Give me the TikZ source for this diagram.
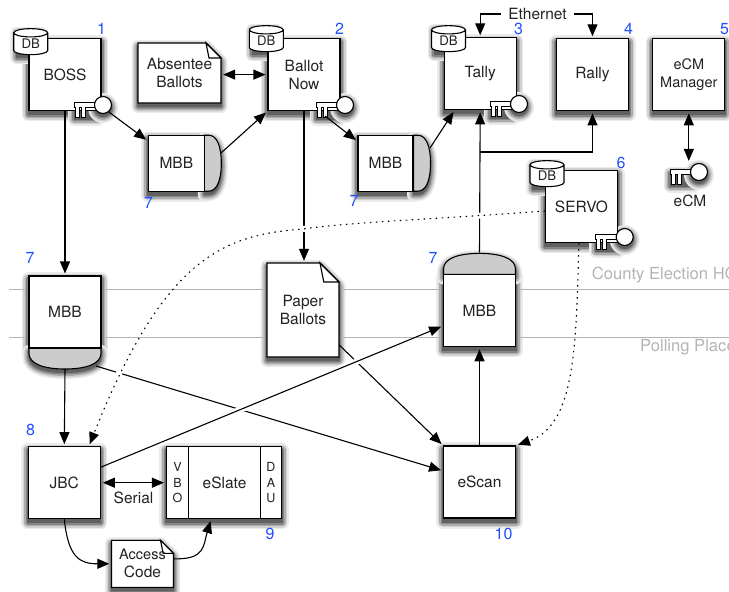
\documentclass[tikz,border=0pt]{standalone}
\usepackage{fontspec}
\setmainfont{TeX Gyre Heros}
\usetikzlibrary{arrows.meta,backgrounds,shapes.geometric}

\definecolor{inkcol}{HTML}{222222}
\definecolor{tagblue}{HTML}{1F4FFF}
\definecolor{capgray}{HTML}{CCCCCC}
\definecolor{zonegray}{HTML}{B4B4B4}

\tikzset{
    boxline/.style={draw=black,line width=1.1pt,fill=white},
    sysbox/.style={rectangle,boxline,minimum width=72pt,minimum height=72pt,inner sep=0pt,align=center,text=inkcol},
    mbbbox/.style={rectangle,boxline,inner sep=0pt,text=inkcol},
    slatebox/.style={rectangle,boxline,inner sep=0pt,minimum height=72pt,align=center,text=inkcol},
    dbcyl/.style={cylinder,shape border rotate=90,aspect=0.45,boxline,minimum width=34pt,minimum height=26pt,inner sep=0pt,text=inkcol,font=\fontsize{13.2}{15}\selectfont},
    tagnum/.style={text=tagblue,inner sep=0pt,font=\fontsize{16}{18}\selectfont},
    plainlabel/.style={text=inkcol,inner sep=0pt,align=center},
    zonelabel/.style={text=zonegray,anchor=west,inner sep=0pt,font=\fontsize{16.6}{18}\selectfont},
    zoneline/.style={draw=zonegray,line width=0.9pt},
    conn/.style={draw=black,line width=1.1pt,-{Triangle[length=12pt,width=10pt]},shorten >=2pt},
    twoway/.style={conn,{Triangle[length=12pt,width=10pt]}-{Triangle[length=12pt,width=10pt]},shorten <=2pt},
    dotconn/.style={conn,dash pattern=on 1.5pt off 4.5pt},
    halo/.style={draw=white,line width=6pt}
}

% shadow under a path, on the background layer
\newcommand{\softshade}[1]{
    \begin{scope}[on background layer]
        \foreach \w/\c in {13/8,10/18,7/32,4/48,1/62}
            \draw[black!\c,fill=black!\c,line width=\w pt,line join=round] #1;
    \end{scope}
}
\newcommand{\boxshade}[1]{\softshade{([yshift=-3.5pt]#1.north west) rectangle ([yshift=-3.5pt]#1.south east)}}

% folded sheet: name, left, top, width, height, fold, text
\newcommand{\paperdoc}[7]{
    \softshade{(#2,#3+3.5) -- (#2+#4-#6,#3+3.5) -- (#2+#4,#3+#6+3.5) -- (#2+#4,#3+#5+3.5) -- (#2,#3+#5+3.5) -- cycle}
    \draw[boxline] (#2,#3) -- (#2+#4-#6,#3) -- (#2+#4,#3+#6) -- (#2+#4,#3+#5) -- (#2,#3+#5) -- cycle;
    \draw[boxline] (#2+#4-#6,#3) -- (#2+#4-0.8*#6,#3+#6) -- (#2+#4,#3+#6) -- cycle;
    \node[plainlabel,minimum width=#4pt,minimum height=#5pt] (#1) at (#2+#4/2,#3+#5/2) {#7};
}

% round cap of an MBB: node, turn, half size, depth
\newcommand{\mbbcap}[4]{
    \boxshade{#1}
    \begin{scope}[shift={([yshift=-3.5pt]#1.center)},rotate=#2]
        \softshade{(#3,-#3) -- (#3+0.25*#4,-#3) .. controls (#3+0.75*#4,-#3) and (#3+#4,-0.6*#3) .. (#3+#4,0)
            .. controls (#3+#4,0.6*#3) and (#3+0.75*#4,#3) .. (#3+0.25*#4,#3) -- (#3,#3) -- cycle}
    \end{scope}
    \begin{scope}[on background layer]
        \draw[boxline,fill=capgray,shift={(#1.center)},rotate=#2]
            (#3,-#3) -- (#3+0.25*#4,-#3) .. controls (#3+0.75*#4,-#3) and (#3+#4,-0.6*#3) .. (#3+#4,0)
            .. controls (#3+#4,0.6*#3) and (#3+0.75*#4,#3) .. (#3+0.25*#4,#3) -- (#3,#3) -- cycle;
    \end{scope}
}

% key: name, x, y of its ring
\newcommand{\keyicon}[3]{
    \softshade{(#2-29,#3+1) rectangle (#2-6,#3+14)}
    \softshade{(#2,#3+3) circle (8.5)}
    \draw[boxline,line width=0.9pt] (#2-29,#3-2.5) -- (#2-6,#3-2.5) -- (#2-6,#3+2.5) -- (#2-18,#3+2.5) -- (#2-18,#3+12) -- (#2-22,#3+12)
        -- (#2-22,#3+2.5) -- (#2-24,#3+2.5) -- (#2-24,#3+12) -- (#2-28,#3+12) -- (#2-28,#3+2.5) -- (#2-29,#3+2.5) -- cycle;
    \node[circle,boxline,minimum size=17pt,inner sep=0pt] (#1) at (#2,#3) {};
    \coordinate (#1teeth) at (#2-20,#3+11);
}

\begin{document}
\begin{tikzpicture}[x=1pt,y=-1pt,every node/.style={font=\fontsize{15.5}{18}\selectfont}]

    \useasboundingbox (0,0) rectangle (729,592);

    % county systems
    \node[sysbox] (boss) at (65,74.6) {BOSS};
    \node[sysbox] (ballotnow) at (304,74.6) {Ballot\\Now};
    \node[sysbox] (tally) at (480.2,73.8) {Tally};
    \node[sysbox] (rally) at (592.5,74.8) {Rally};
    \node[sysbox,font=\fontsize{14.5}{18}\selectfont] (ecmmanager) at (688.8,74.8) {eCM\\Manager};
    \node[sysbox] (servo) at (581.5,206.5) {SERVO};

    \node[dbcyl] (bossdb) at (30.7,44) {DB};
    \node[dbcyl] (ballotdb) at (266.3,41) {DB};
    \node[dbcyl] (tallydb) at (448.5,41) {DB};
    \node[dbcyl] (servodb) at (547,176) {DB};
    \foreach \nm in {boss,ballotnow,tally,rally,ecmmanager,servo,bossdb,ballotdb,tallydb,servodb} {
        \boxshade{\nm}
    }

    \keyicon{bosskey}{103}{105}
    \keyicon{ballotkey}{345}{105}
    \keyicon{tallykey}{519}{104}
    \keyicon{servokey}{624.7}{237}
    \keyicon{ecmkey}{699}{172}
    \node[plainlabel] (ecmlabel) at (690,201) {eCM};

    % paper
    \paperdoc{absentee}{138}{43}{83}{60}{15}{Absentee\\Ballots}
    \paperdoc{paper}{267}{263}{72}{94}{19}{Paper\\Ballots}
    \paperdoc{access}{111.5}{540.3}{62}{47}{13}{\fontsize{14.5}{18}\selectfont Access\\Code}

    % ballot boxes
    \node[mbbbox,minimum width=56pt,minimum height=56pt] (mbbA) at (176.3,163.2) {MBB};
    \node[mbbbox,minimum width=55pt,minimum height=56pt] (mbbB) at (385.5,163.2) {MBB};
    \node[mbbbox,minimum width=72pt,minimum height=72pt] (mbbL) at (65,312) {MBB};
    \node[mbbbox,minimum width=72pt,minimum height=72.6pt] (mbbR) at (479.5,310.4) {MBB};
    \mbbcap{mbbA}{0}{28}{17}
    \mbbcap{mbbB}{0}{28}{17}
    \mbbcap{mbbL}{-90}{36}{21}
    \mbbcap{mbbR}{90}{36}{21}
    \coordinate (mbbAexit) at (221,153);
    \coordinate (mbbBexit) at (430,148);
    \coordinate (mbbLexit) at (96,366);
    \coordinate (mbbRexit) at (479.5,252.7);

    % polling place
    \node[sysbox] (jbc) at (64.3,482.7) {JBC};
    \node[sysbox] (escan) at (479.5,482) {eScan};
    \node[slatebox,minimum width=22pt,font=\fontsize{12.5}{15.5}\selectfont] (eslatev) at (177.5,482.7) {V\\B\\O};
    \node[slatebox,minimum width=72pt] (eslate) at (224.5,482.7) {eSlate};
    \node[slatebox,minimum width=21pt,font=\fontsize{12.5}{15.5}\selectfont] (eslated) at (271,482.7) {D\\A\\U};
    \boxshade{jbc}
    \boxshade{escan}
    \softshade{([yshift=-3.5pt]eslatev.north west) rectangle ([yshift=-3.5pt]eslated.south east)}

    \node[plainlabel] (ethernet) at (537.5,14) {\hspace{7pt}Ethernet\hspace{7pt}};
    \node[plainlabel] (serial) at (133.5,498) {Serial};

    \foreach \n/\x/\y/\t in {a/101.5/29/1, b/339.5/29/2, c/518.5/29/3, d/628.5/29/4, e/724.5/29/5, f/621/162.5/6,
        g/148.5/203/7, h/354/201/7, i/30/258/7, j/433/258/7, k/30.5/430/8, l/270/534/9, m/503.5/534/10}
        \node[tagnum] (tag\n) at (\x,\y) {\t};

    % links that pass under others
    \draw[conn] (ballotnow.south) -- (ballotnow.south |- paper.north);
    \draw[conn] (mbbRexit) -- (tally.south);
    \draw[conn] (mbbLexit) -- (escan.163);
    \draw[conn] (paper.-44) -- (escan.north west);
    \draw[halo,shorten <=30pt,shorten >=45pt] (jbc.23) -- (mbbR.203);
    \draw[halo,shorten <=8pt,shorten >=40pt] (servo.187) .. controls (440,219) and (350,222) .. (303,229)
        .. controls (225,235) and (165,255) .. (jbc.56);

    \node[zonelabel] (countyzone) at (591.7,275.5) {County Election HQ};
    \node[zonelabel] (pollingzone) at (640,347) {Polling Place};
    \foreach \liney in {289,337}
        \draw[zoneline] (9,\liney) -- (26,\liney) (104,\liney) -- (263,\liney) (341,\liney) -- (440,\liney) (519,\liney) -- (729,\liney);

    % links
    \draw[conn] (boss.south) -- (mbbL.north);
    \draw[conn] (bosskey.-50) -- (mbbA.142);
    \draw[conn] (mbbAexit) -- (ballotnow.south west);
    \draw[twoway] (absentee.east |- ballotnow.west) -- (ballotnow.west);
    \draw[conn] (ballotkeyteeth) -- (mbbB.142);
    \draw[conn] (mbbBexit) -- (tally.235);
    \coordinate (split) at (480.2,152);
    \draw[conn] (split) -| (rally.south);
    \draw[conn] (ethernet.west) -| (tally.north);
    \draw[conn] (ethernet.east) -| (rally.north);
    \draw[twoway] (ecmmanager.south) -- (ecmmanager.south |- ecmkey.north);
    \draw[conn] (mbbL.south |- mbbLexit) ++(0,3) -- (jbc.north);
    \draw[conn] (jbc.23) -- (mbbR.203);
    \draw[twoway] (jbc.east) -- (eslatev.west);
    \draw[conn] (jbc.south) .. controls +(4,38) and +(-32,0) .. (access.west);
    \draw[conn] (access.east) ++(0,-5) .. controls +(32,1) and +(-8,26) .. (eslate.250);
    \draw[conn] (escan.north) -- (mbbR.south);
    \draw[dotconn] (servo.187) .. controls (440,219) and (350,222) .. (303,229)
        .. controls (225,235) and (165,255) .. (jbc.56);
    \draw[dotconn] (servo.-94) .. controls (576,350) and (575,425) .. (escan.north east);

\end{tikzpicture}
\end{document}
